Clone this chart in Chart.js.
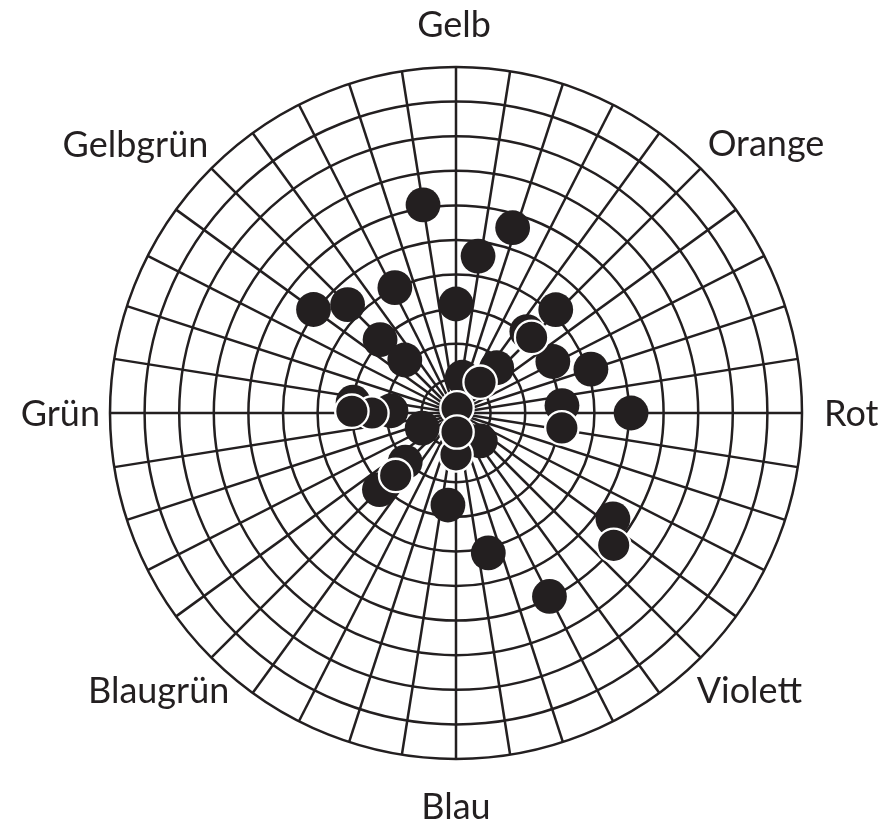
<!DOCTYPE html>
<html><head><meta charset="utf-8">
<script src="https://cdn.jsdelivr.net/npm/chart.js@4"></script>
<style>html,body{margin:0;padding:0;background:#fff}#wrap{width:884px;height:824px;position:relative}</style>
</head><body><div id="wrap"><canvas id="c"></canvas></div>
<script>
// Hue names placed around the circle (degrees clockwise from top)
const hueNames  = ['Gelb', 'Orange', 'Rot', 'Violett', 'Blau', 'Blaugrün', 'Grün', 'Gelbgrün'];
const hueAngles = [0, 45, 90, 135, 180, 225, 270, 315];
// Concentric rings (radial values)
const ringValues = [0, 1, 2, 3, 4, 5, 6, 7, 8, 9, 10];
// Spokes every 9 degrees
const spokeStep = 9;
// Dots: angle (deg clockwise from top) and radius (ring units); listed bottom to top
const dotAngles  = [351, 17, 8, 334, 315, 306, 0, 44, 41, 314, 316, 62, 72, 42, 10, 86, 90, 276, 272, 246, 139, 226, 225, 185, 167, 124, 153,
                    45, 38, 98, 270, 271, 11, 180, 177, 224, 130];
const dotRadii   = [6.09, 5.60, 4.58, 4.03, 4.43, 5.09, 3.15, 4.15, 3.12, 3.05, 2.13, 3.17, 4.10, 1.76, 1.05, 3.07, 5.06, 2.99, 1.88, 1.07, 1.07, 2.04, 3.13, 2.67, 4.15, 5.47, 5.95,
                    3.09, 1.13, 3.09, 2.43, 3.01, 0.15, 1.21, 0.55, 2.51, 5.95];
const dotOutlined = [0,0,0,0,0,0,0,0,0,0,0,0,0,0,0,0,0,0,0,0,0,0,0,0,0,0,0,
                     1,1,1,1,1,1,1,1,1,1];

const INK = '#231f20';
const angleCategories = Array.from({length: 360}, (_, i) => i);

const datasets = dotAngles.map((a, i) => {
  const data = angleCategories.map(() => null);
  data[a] = dotRadii[i];
  const out = dotOutlined[i] === 1;
  return {
    data,
    showLine: false,
    order: dotAngles.length - i,
    pointRadius: out ? 16.7 : 17.4,
    pointHoverRadius: out ? 16.7 : 17.4,
    pointBackgroundColor: INK,
    pointBorderColor: out ? '#ffffff' : INK,
    pointBorderWidth: out ? 2.3 : 0,
    pointHoverBorderWidth: out ? 2.3 : 0
  };
});

// label anchors relative to the outer ring point at each hue angle
const labelStyle = [
  {align: 'center', dx: -2, dy: -30, base: 'alpha'},
  {align: 'left',   dx: 7,  dy: -12, base: 'alpha'},
  {align: 'left',   dx: 22, dy: 0,   base: 'middle'},
  {align: 'left',   dx: -4, dy: 19,  base: 'top'},
  {align: 'center', dx: 0,  dy: 34,  base: 'top'},
  {align: 'right',  dx: 18, dy: 19,  base: 'top'},
  {align: 'right',  dx: -10, dy: 0,  base: 'middle'},
  {align: 'right',  dx: -3, dy: -11, base: 'alpha'}
];

const hueLabels = {
  id: 'hueLabels',
  afterDraw(chart) {
    const s = chart.scales.r;
    const ctx = chart.ctx;
    const size = 36, cap = size * 0.72;
    ctx.save();
    ctx.font = size + 'px Lato';
    ctx.fillStyle = INK;
    ctx.textBaseline = 'alphabetic';
    hueNames.forEach((name, i) => {
      const p = s.getPointPosition(hueAngles[i], s.drawingArea);
      const st = labelStyle[i];
      let y = p.y + st.dy;
      if (st.base === 'middle') y += cap / 2;
      if (st.base === 'top') y += cap;
      ctx.textAlign = st.align;
      ctx.fillText(name, p.x + st.dx, y);
    });
    ctx.restore();
  }
};

new Chart(document.getElementById('c'), {
  type: 'radar',
  data: {labels: angleCategories, datasets},
  options: {
    responsive: true,
    maintainAspectRatio: false,
    animation: false,
    events: [],
    layout: {padding: {left: 110, right: 82, top: 67, bottom: 65}},
    plugins: {legend: {display: false}, tooltip: {enabled: false}},
    scales: {
      r: {
        min: 0,
        max: 10,
        afterBuildTicks: (axis) => { axis.ticks = ringValues.map(v => ({value: v})); },
        ticks: {display: false},
        pointLabels: {display: false},
        grid: {circular: true, color: INK, lineWidth: 2.5},
        angleLines: {
          display: true,
          color: INK,
          lineWidth: (ctx) => (ctx.index % spokeStep === 0 ? 2.5 : 0)
        }
      }
    }
  },
  plugins: [hueLabels]
});
</script>
</body></html>
